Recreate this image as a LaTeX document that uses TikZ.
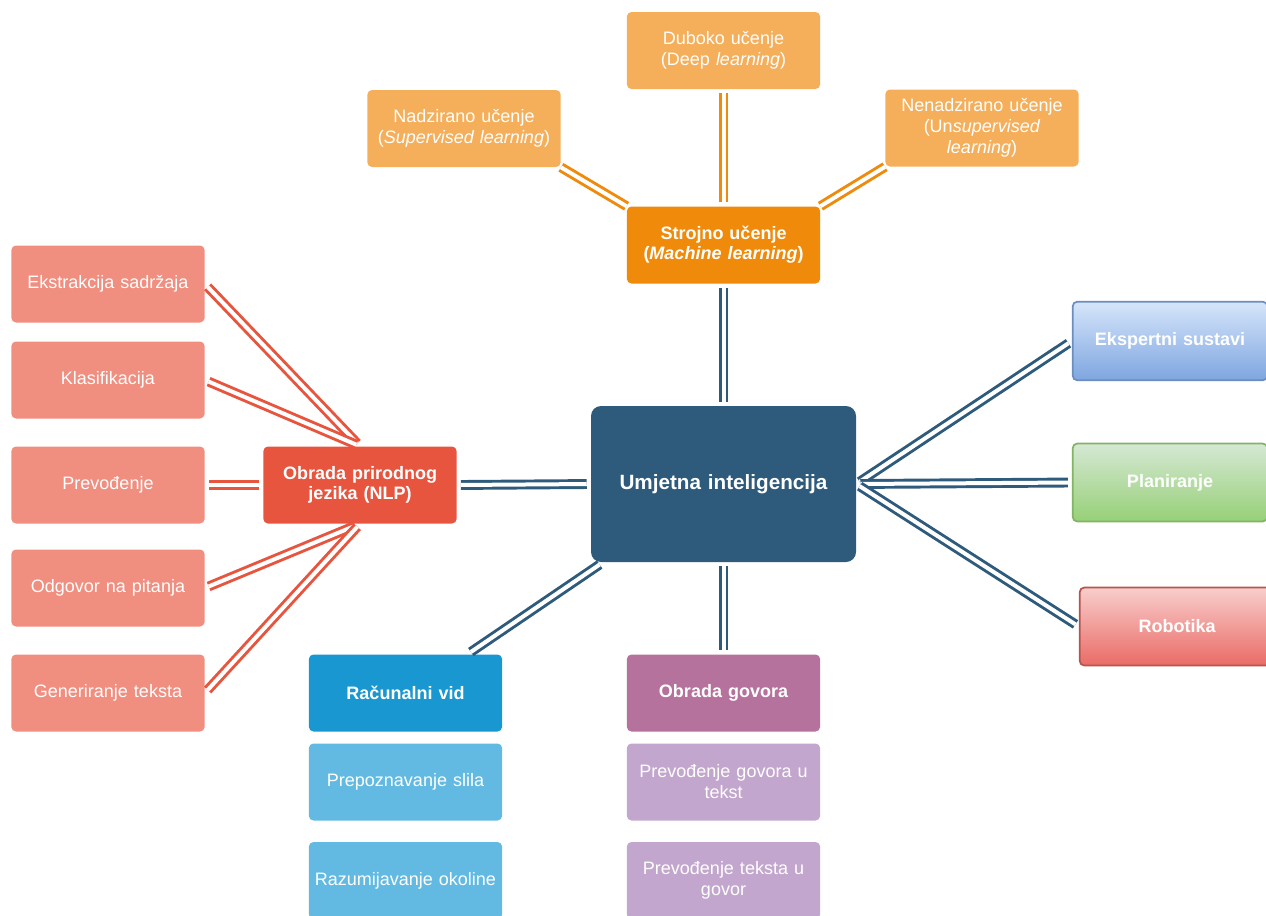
\documentclass[tikz,border=0pt]{standalone}
\usepackage{fontspec}
\setmainfont{Liberation Sans}
\usepackage{tikz}

\definecolor{mlorange}{HTML}{EF8A0B}
\definecolor{mllight}{HTML}{F5AF5B}
\definecolor{ainavy}{HTML}{2E5B7C}
\definecolor{nlpred}{HTML}{E8553F}
\definecolor{nlplight}{HTML}{F08E80}
\definecolor{cvblue}{HTML}{1897D1}
\definecolor{cvlight}{HTML}{62BAE2}
\definecolor{sppurple}{HTML}{B5729C}
\definecolor{splight}{HTML}{C3A6CD}
\definecolor{extop}{HTML}{D6E5FA}
\definecolor{exbot}{HTML}{7EA6E0}
\definecolor{exline}{HTML}{6C8EBF}
\definecolor{pltop}{HTML}{D5E8D4}
\definecolor{plbot}{HTML}{97D077}
\definecolor{plline}{HTML}{82B366}
\definecolor{rotop}{HTML}{F8CECC}
\definecolor{robot}{HTML}{EA6B66}
\definecolor{roline}{HTML}{B85450}

\tikzset{
  box/.style={rectangle, rounded corners=3.5pt, minimum width=145pt, minimum height=57.75pt,
    text width=140pt, align=center, inner sep=0pt, text=white,
    font=\fontsize{13.5}{15.75}\selectfont},
  mainbox/.style={box, font=\fontsize{13.5}{15}\selectfont\bfseries},
  gradbox/.style n args={3}{mainbox, top color=#1, bottom color=#2, draw=#3, line width=1.3pt,
    minimum width=146pt, minimum height=58.5pt},
  link/.style={draw=#1, line width=2.2pt, double=white, double distance=3pt,
    shorten <=3pt, shorten >=3pt},
}

\begin{document}
\begin{tikzpicture}[x=0.75pt,y=-0.75pt]
    \useasboundingbox (0,0) rectangle (1266,915);
    \clip (0,0) rectangle (1266,915);

    % centre
    \node[box, fill=ainavy, rounded corners=7.5pt, minimum width=198.75pt, minimum height=117pt,
      text width=190pt, font=\fontsize{15.5}{18}\selectfont\bfseries] (ai) at (723.5,484) {Umjetna inteligencija};

    % machine learning branch
    \node[mainbox, fill=mlorange] (ml) at (723.5,245) {Strojno učenje\\(\textit{Machine learning})};
    \node[box, fill=mllight] (deep) at (723.5,50.5) {Duboko učenje\\(Deep \textit{learning})};
    \node[box, fill=mllight] (sup) at (464,128.5) {Nadzirano učenje\\(\textit{Supervised learning})};
    \node[box, fill=mllight] (unsup) at (982,128) {Nenadzirano učenje\\(Un\textit{supervised}\\\textit{learning})};

    % NLP branch
    \node[mainbox, fill=nlpred] (nlp) at (360,485) {Obrada prirodnog\\jezika (NLP)};
    \node[box, fill=nlplight] (ext) at (108,284) {Ekstrakcija sadržaja};
    \node[box, fill=nlplight] (kla) at (108,380) {Klasifikacija};
    \node[box, fill=nlplight] (prev) at (108,485) {Prevođenje};
    \node[box, fill=nlplight] (odg) at (108,588) {Odgovor na pitanja};
    \node[box, fill=nlplight] (gen) at (108,693) {Generiranje teksta};

    % right branch
    \node[gradbox={extop}{exbot}{exline}, minimum height=59pt] (eks) at (1170,341) {Ekspertni sustavi};
    \node[gradbox={pltop}{plbot}{plline}] (plan) at (1170,482.5) {Planiranje};
    \node[gradbox={rotop}{robot}{roline}] (rob) at (1177,626.5) {Robotika};

    % computer vision
    \node[mainbox, fill=cvblue] (rv) at (405.5,693) {Računalni vid};
    \node[box, fill=cvlight] (pre) at (405.5,782) {Prepoznavanje slila};
    \node[box, fill=cvlight] (raz) at (405.5,880.5) {Razumijavanje okoline};

    % speech
    \node[mainbox, fill=sppurple] (og) at (723.5,693) {Obrada govora};
    \node[box, fill=splight] (pg) at (723.5,782) {Prevođenje govora u\\tekst};
    \node[box, fill=splight] (pt) at (723.5,880.5) {Prevođenje teksta u\\govor};

    % connectors
    \draw[link=mlorange] (deep.south) -- (ml.north); % deep learning
    \draw[link=mlorange, shorten <=0pt, shorten >=0pt] (sup.south east) -- (ml.north west); % supervised
    \draw[link=mlorange, shorten <=0pt, shorten >=0pt] (unsup.south west) -- (ml.north east); % unsupervised
    \draw[link=ainavy] (ml.south) -- (ai.north); % machine learning
    \draw[link=ainavy] (ai.west) -- (nlp.east); % nlp
    \draw[link=nlpred] (nlp.north) -- (ext.east);
    \draw[link=nlpred] (nlp.north) -- (kla.east);
    \draw[link=nlpred] (nlp.west) -- (prev.east);
    \draw[link=nlpred] (nlp.south) -- (odg.east);
    \draw[link=nlpred] (nlp.south) -- (gen.east);
    \draw[link=ainavy] (ai.east) -- (eks.west); % expert systems
    \draw[link=ainavy] (ai.east) -- (plan.west); % planning
    \draw[link=ainavy] (ai.east) -- (rob.west); % robotics
    \draw[link=ainavy] (ai.213) -- (rv.32); % vision
    \draw[link=ainavy] (ai.south) -- (og.north); % speech
  \end{tikzpicture}
\end{document}
